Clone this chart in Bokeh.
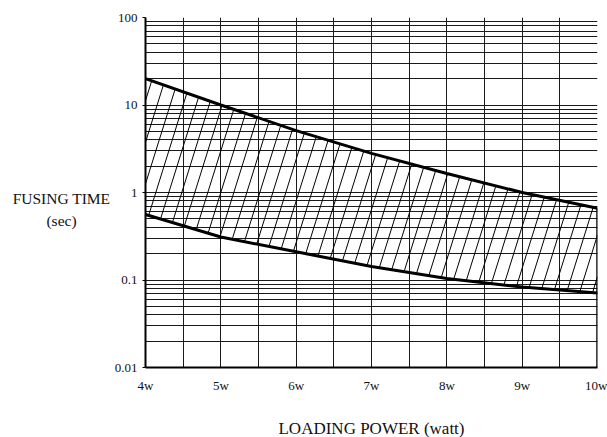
import numpy as np
from bokeh.plotting import figure
from bokeh.models import FixedTicker
from bokeh.layouts import row
from bokeh.core.properties import value
from bokeh.embed import file_html
from bokeh.resources import INLINE

# ---- data ----
x_power = [4, 5, 6, 7, 8, 9, 10]
upper_time = [20, 10, 5.1, 2.8, 1.65, 1.0, 0.66]
lower_time = [0.56, 0.31, 0.21, 0.143, 0.104, 0.083, 0.071]
x_ticks = [4, 5, 6, 7, 8, 9, 10]
x_tick_labels = ["4w", "5w", "6w", "7w", "8w", "9w", "10w"]
y_ticks = [0.01, 0.1, 1, 10, 100]
y_tick_labels = ["0.01", "0.1", "1", "10", "100"]
y_title_lines = ["FUSING TIME", "(sec)"]
x_grid_step = 0.5

FONT = "Liberation Serif"
TOTAL_W, TOTAL_H = 607, 437
LEFT_W = 110
W, H = 452, 350
BL, BR, BT, BB = 145 - LEFT_W, 10, 17, 70

# ---- left panel holding the horizontal y-axis title ----
pl = figure(frame_width=LEFT_W, frame_height=TOTAL_H, x_range=(0, LEFT_W), y_range=(TOTAL_H, 0),
            x_axis_location=None, y_axis_location=None,
            output_backend="svg", toolbar_location=None,
            min_border=0, min_border_left=0, min_border_right=0, min_border_top=0, min_border_bottom=0)
pl.title.visible = False
pl.grid.visible = False
pl.outline_line_color = None
pl.background_fill_color = "white"
pl.border_fill_color = "white"
pl.text(x=[61, 61], y=[181, 203], text=y_title_lines, text_font=value(FONT),
        text_font_size="15.5px", text_align="center", text_baseline="middle", text_color="#111")

# ---- main chart ----
p = figure(frame_width=W, frame_height=H,
           x_range=(x_ticks[0], x_ticks[-1]), y_range=(y_ticks[0], y_ticks[-1]),
           y_axis_type="log", output_backend="svg", toolbar_location=None,
           min_border_left=BL, min_border_right=BR, min_border_top=BT, min_border_bottom=BB)
p.outline_line_color = None
p.background_fill_color = "white"
p.border_fill_color = "white"

# grids
xg = list(np.arange(x_ticks[0], x_ticks[-1] + 1e-9, x_grid_step))
p.xgrid.ticker = FixedTicker(ticks=xg)
yg = []
for e in range(int(np.log10(y_ticks[0])), int(np.log10(y_ticks[-1]))):
    for k in range(1, 10):
        yg.append(k * 10.0 ** e)
yg.append(y_ticks[-1])
p.ygrid.ticker = FixedTicker(ticks=yg)
for g in (p.xgrid, p.ygrid):
    g.grid_line_color = "#1a1a1a"
    g.grid_line_width = 1
    g.grid_line_alpha = 1

# axes
xa = p.xaxis[0]
xa.ticker = FixedTicker(ticks=x_ticks)
xa.major_label_overrides = {t: s for t, s in zip(x_ticks, x_tick_labels)}
xa.major_tick_line_color = None
xa.minor_tick_line_color = None
xa.axis_line_width = 2
xa.axis_line_color = "black"
xa.major_label_text_font = FONT
xa.major_label_text_font_size = "13px"
xa.major_label_standoff = 4
xa.major_label_text_color = "#111"
xa.axis_label = "LOADING POWER (watt)"
xa.axis_label_text_font = FONT
xa.axis_label_text_font_size = "17px"
xa.axis_label_text_font_style = "normal"
xa.axis_label_standoff = 23
xa.axis_label_text_color = "#111"

ya = p.yaxis[0]
ya.ticker = FixedTicker(ticks=y_ticks)
ya.major_label_overrides = {t: s for t, s in zip(y_ticks, y_tick_labels)}
ya.major_tick_out = 3
ya.major_tick_in = 0
ya.minor_tick_line_color = None
ya.axis_line_width = 2
ya.axis_line_color = "black"
ya.major_label_text_font = FONT
ya.major_label_text_font_size = "13px"
ya.major_label_standoff = 5
ya.major_label_text_color = "#111"

# hatch between curves (computed in screen-proportional space)
xs = np.linspace(x_power[0], x_power[-1], 1201)
lu = np.interp(xs, x_power, np.log10(upper_time))
ll = np.interp(xs, x_power, np.log10(lower_time))
ymin_l, ymax_l = np.log10(y_ticks[0]), np.log10(y_ticks[-1])
def to_u(x):
    return (np.asarray(x) - x_power[0]) / (x_power[-1] - x_power[0]) * W
def to_v(ly):
    return (np.asarray(ly) - ymin_l) / (ymax_l - ymin_l) * H
us = to_u(xs)
vu = to_v(lu)
vl = to_v(ll)
slope = 3.2
spacing = 13.0
vv = np.linspace(0, H, 3000)
x0s, y0s, x1s, y1s = [], [], [], []
c = -H / slope
while c < W:
    uu = c + vv / slope
    ok = (uu >= 0) & (uu <= W)
    if ok.any():
        upv = np.interp(uu, us, vu)
        lov = np.interp(uu, us, vl)
        m = ok & (vv >= lov) & (vv <= upv)
        if m.sum() > 2:
            idx = np.where(m)[0]
            a, b = idx[0], idx[-1]
            x0s.append(x_power[0] + uu[a] / W * (x_power[-1] - x_power[0]))
            x1s.append(x_power[0] + uu[b] / W * (x_power[-1] - x_power[0]))
            y0s.append(10 ** (ymin_l + vv[a] / H * (ymax_l - ymin_l)))
            y1s.append(10 ** (ymin_l + vv[b] / H * (ymax_l - ymin_l)))
    c += spacing
p.segment(x0=x0s, y0=y0s, x1=x1s, y1=y1s, line_color="black", line_width=1)

# curves
p.line(x_power, upper_time, line_color="black", line_width=3)
p.line(x_power, lower_time, line_color="black", line_width=3)
# right edge thick line
p.line([x_power[-1], x_power[-1]], [y_ticks[0], upper_time[-1]], line_color="black", line_width=2.5)

layout = row(pl, p, spacing=0)
open("out.html", "w").write(file_html(layout, INLINE))
